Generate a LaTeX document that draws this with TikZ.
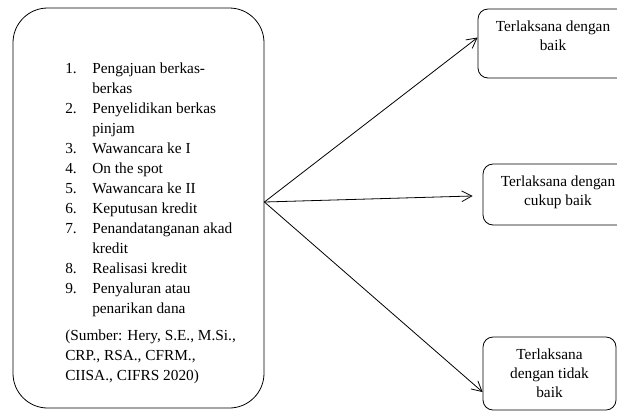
\documentclass[tikz,border=0pt]{standalone}
\usepackage{fontspec}
\setmainfont{Liberation Serif}
\usetikzlibrary{positioning,arrows.meta}
\newcommand{\butir}[1]{\makebox[20.25pt][l]{#1}}
\newcommand{\sambung}{\hspace*{20.25pt}}
\tikzset{
	kotak/.style={draw,line width=0.6pt,rounded corners=7.5pt,inner sep=0pt},
	isi/.style={inner sep=0pt,align=center,font=\fontsize{11.5}{14.25}\selectfont},
	panah/.style={line width=0.6pt,-{Straight Barb[length=7.5pt,width=8pt]}}
}
\begin{document}
\begin{tikzpicture}[x=0.75pt,y=-0.75pt]
		\clip(0,0)rectangle(617,419);
		\node[draw,line width=0.6pt,rounded corners=26pt,minimum width=188.25pt,minimum height=300pt](tahap)at(138.5,208){};
		\node[anchor=north west,inner sep=0pt,align=left,font=\fontsize{11.5}{15}\selectfont](daftar)at(65,63){\butir{1.}Pengajuan berkas-\\\sambung berkas\\\butir{2.}Penyelidikan berkas\\\sambung pinjam\\\butir{3.}Wawancara ke I\\\butir{4.}On the spot\\\butir{5.}Wawancara ke II\\\butir{6.}Keputusan kredit\\\butir{7.}Penandatanganan akad\\\sambung kredit\\\butir{8.}Realisasi kredit\\\butir{9.}Penyaluran atau\\\sambung penarikan dana\\[5pt](Sumber: Hery, S.E., M.Si.,\\CRP., RSA., CFRM.,\\CIISA., CIFRS 2020)};
		\node[kotak,minimum width=112.5pt,minimum height=51.75pt](baik)at(553,43.5){};
		\node[kotak,minimum width=112.5pt,minimum height=45.75pt](cukup)at(558,194.5){};
		\node[kotak,minimum width=99.75pt,minimum height=54.75pt](tidak)at(549.5,373.5){};
		\node[isi,below=9pt of baik.north](tbaik){Terlaksana dengan\\baik};
		\node[isi,below=9pt of cukup.north](tcukup){Terlaksana dengan\\cukup baik};
		\node[isi,below=9pt of tidak.north](ttidak){Terlaksana\\dengan tidak\\baik};
		\coordinate(asal)at([yshift=4.5pt]tahap.east);
		\draw[panah](asal)--([yshift=4.5pt]baik.west);
		\draw[panah](asal)--([xshift=-7.5pt,yshift=-1.1pt]cukup.west);
		\draw[panah](asal)--([yshift=-13.9pt]tidak.west);
	    \end{tikzpicture}
\end{document}
